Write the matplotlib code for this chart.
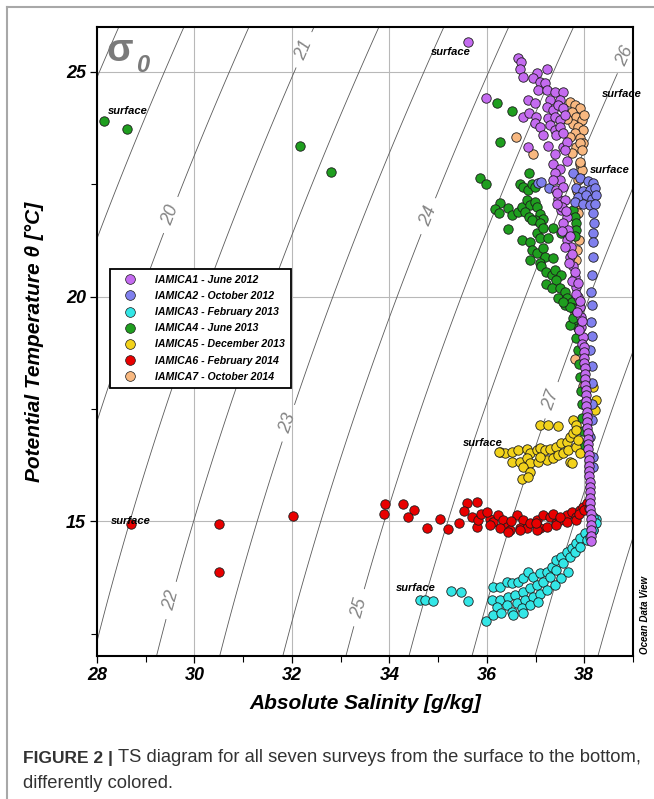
import numpy as np
import matplotlib
matplotlib.use("Agg")
import matplotlib.pyplot as plt
from matplotlib.lines import Line2D
from matplotlib.ticker import MultipleLocator

plt.rcParams['font.family'] = ['Liberation Sans', 'DejaVu Sans']

# survey names and colours
surveys = ['IAMICA1 - June 2012', 'IAMICA2 - October 2012', 'IAMICA3 - February 2013',
           'IAMICA4 - June 2013', 'IAMICA5 - December 2013', 'IAMICA6 - February 2014',
           'IAMICA7 - October 2014']
colors = ['#c46bf0', '#8080ee', '#33e6e6', '#1f9e1f', '#f2d21b', '#e80000', '#f8b880']

# (absolute salinity, potential temperature)
iamica1 = [(35.61, 25.67), (36.65, 25.32), (36.70, 25.23), (36.68, 25.06), (36.75, 24.89),
           (37.04, 24.98), (37.24, 25.06), (36.94, 24.86), (37.09, 24.78), (37.19, 24.75),
           (37.06, 24.60), (37.23, 24.60), (37.40, 24.56), (37.56, 24.56), (35.98, 24.43),
           (36.85, 24.37), (36.99, 24.31), (37.30, 24.37), (37.50, 24.37), (36.75, 24.00),
           (36.87, 24.08), (37.01, 24.00), (37.23, 24.23), (37.36, 24.15), (37.47, 24.26),
           (37.57, 24.19), (37.26, 23.97), (37.40, 24.00), (37.50, 23.93), (37.60, 24.04),
           (36.99, 23.87), (37.09, 23.78), (37.16, 23.60), (37.30, 23.82), (37.40, 23.71),
           (37.50, 23.78), (37.43, 23.60), (37.57, 23.64), (36.85, 23.34), (37.26, 23.36),
           (37.40, 23.17), (37.57, 23.32), (37.64, 23.02), (37.36, 22.96), (37.50, 22.85),
           (37.64, 23.45), (37.60, 23.26),
           (37.40, 22.74), (37.50, 22.59), (37.43, 22.37), (37.57, 22.44), (37.47, 22.18),
           (37.60, 22.15), (37.53, 21.93), (37.64, 21.78), (37.57, 21.63), (37.67, 21.48),
           (37.64, 21.26), (37.72, 21.11), (37.71, 20.89), (37.77, 20.67), (37.81, 20.44),
           (37.84, 20.22), (37.87, 20.00), (37.91, 19.77), (37.94, 19.55), (37.94, 19.33),
           (37.98, 19.11), (37.35, 22.60), (37.45, 22.30), (37.55, 22.00), (37.45, 22.05),
           (37.62, 21.90), (37.55, 21.45), (37.70, 21.35), (37.60, 21.10), (37.75, 20.95),
           (37.68, 20.75), (37.80, 20.55), (37.75, 20.35), (37.88, 20.30), (37.82, 20.05),
           (37.92, 19.90), (37.86, 19.65), (37.96, 19.45), (37.90, 19.25), (37.96, 18.95),
           (37.99, 18.88), (37.99, 18.76), (38.00, 18.64), (38.00, 18.52), (38.01, 18.40),
           (38.01, 18.28), (38.02, 18.16), (38.02, 18.04), (38.03, 17.92), (38.03, 17.80),
           (38.04, 17.68), (38.04, 17.56), (38.05, 17.44), (38.05, 17.32), (38.06, 17.20),
           (38.06, 17.08), (38.07, 16.96), (38.07, 16.84), (38.08, 16.72), (38.08, 16.60),
           (38.09, 16.48), (38.09, 16.36), (38.10, 16.24), (38.10, 16.12), (38.10, 16.00),
           (38.11, 15.88), (38.11, 15.76), (38.11, 15.64), (38.12, 15.52), (38.12, 15.40),
           (38.12, 15.28), (38.13, 15.16), (38.13, 15.04), (38.13, 14.92), (38.13, 14.80),
           (38.13, 14.68), (38.13, 14.56)]

iamica2 = [(37.06, 22.52), (37.12, 22.55), (37.28, 22.41), (37.77, 22.75), (37.91, 22.64),
           (38.08, 22.57), (38.18, 22.53), (37.84, 22.41), (37.98, 22.34), (38.11, 22.37),
           (38.21, 22.41), (37.87, 22.22), (38.04, 22.26), (38.15, 22.18), (38.24, 22.26),
           (37.81, 22.11), (37.98, 22.07), (38.11, 22.04), (38.21, 22.07), (38.17, 21.85),
           (38.20, 21.63), (38.17, 21.41), (38.18, 21.22), (38.17, 20.89), (38.15, 20.48),
           (38.13, 20.11), (38.15, 19.81), (38.14, 19.44), (38.15, 19.12), (38.12, 18.82),
           (38.15, 18.45), (38.15, 18.07), (38.15, 17.62), (38.15, 17.25), (38.12, 16.88),
           (38.18, 16.43), (38.18, 16.21)]

iamica3 = [(34.63, 13.25), (34.73, 13.25), (34.90, 13.23), (35.26, 13.45), (35.48, 13.42),
           (35.62, 13.22), (35.98, 12.78), (36.13, 13.54), (36.27, 13.53), (36.41, 13.65),
           (36.51, 13.62), (36.65, 13.65), (36.75, 13.73), (36.85, 13.88), (36.95, 13.76),
           (37.09, 13.84), (37.23, 13.88), (37.33, 13.99), (37.43, 14.14), (37.53, 14.21),
           (37.64, 14.32), (37.74, 14.40), (37.84, 14.51), (37.91, 14.62), (38.01, 14.73),
           (38.15, 14.88), (38.22, 14.95), (38.25, 15.06), (36.10, 13.25), (36.27, 13.25),
           (36.44, 13.32), (36.58, 13.36), (36.75, 13.43), (36.89, 13.51), (37.02, 13.58),
           (37.16, 13.65), (37.30, 13.76), (37.43, 13.91), (37.57, 14.06), (37.71, 14.21),
           (37.81, 14.32), (37.91, 14.43), (38.05, 14.58), (38.18, 14.80), (36.20, 13.10),
           (36.41, 13.13), (36.61, 13.17), (36.78, 13.25), (36.95, 13.32), (37.09, 13.39),
           (37.23, 13.47), (37.40, 13.58), (37.53, 13.73), (37.67, 13.88), (36.13, 12.91),
           (36.30, 12.95), (36.51, 12.98), (36.72, 13.06), (36.89, 13.13), (37.06, 13.21),
           (36.54, 12.91), (36.75, 12.95), (38.18, 15.10), (38.25, 14.95), (38.18, 14.80),
           (38.12, 14.65)]

iamica4 = [(28.14, 23.90), (28.62, 23.74), (32.17, 23.35), (32.80, 22.77), (36.20, 24.30),
           (36.51, 24.12), (36.27, 23.45), (35.86, 22.65), (35.98, 22.51), (36.87, 22.75),
           (36.68, 22.50), (36.74, 22.44), (36.84, 22.37), (36.93, 22.50), (36.99, 22.44),
           (36.27, 22.09), (36.17, 21.95), (36.26, 21.87), (36.44, 21.97), (36.51, 21.82),
           (36.63, 21.89), (36.72, 22.00), (36.82, 22.15), (36.89, 22.04), (36.99, 22.11),
           (37.02, 22.00), (36.78, 21.89), (36.87, 21.76), (37.09, 21.84), (37.16, 21.73),
           (36.99, 21.70), (36.44, 21.50), (36.92, 21.70), (37.09, 21.63), (36.73, 21.26),
           (36.89, 21.22), (37.02, 21.41), (37.09, 21.30), (37.16, 21.52), (37.26, 21.30),
           (37.35, 21.52), (36.92, 21.04), (37.02, 20.96), (37.16, 21.07), (37.19, 20.89),
           (37.36, 20.85), (37.09, 20.74), (36.89, 20.81), (37.12, 20.67), (37.22, 20.55),
           (37.33, 20.48), (37.40, 20.59), (37.53, 20.48), (37.43, 20.37), (37.22, 20.29),
           (37.33, 20.18), (37.50, 20.18), (37.60, 20.11), (37.47, 19.96), (37.64, 19.96),
           (37.60, 19.81), (37.74, 19.88), (37.77, 19.74), (37.84, 19.59), (37.77, 19.44),
           (37.87, 19.29), (37.84, 19.07), (37.77, 21.93), (37.81, 21.78), (37.84, 21.63),
           (37.84, 21.48), (37.81, 21.34), (37.52, 21.42), (37.71, 19.37), (37.77, 19.52),
           (37.71, 19.77), (37.57, 19.89), (37.88, 18.80), (37.90, 18.50), (37.92, 18.20),
           (37.93, 17.90), (37.95, 17.60), (37.96, 17.30), (37.97, 17.00), (37.98, 16.70)]

iamica5 = [(37.09, 17.14), (37.26, 17.14), (37.47, 17.12), (37.77, 17.25), (37.84, 17.14),
           (36.27, 16.55), (36.37, 16.52), (36.51, 16.55), (36.65, 16.58), (36.82, 16.60),
           (36.89, 16.51), (37.02, 16.58), (37.09, 16.62), (37.19, 16.58), (37.30, 16.60),
           (37.43, 16.66), (37.53, 16.73), (37.64, 16.77), (37.71, 16.88), (37.77, 16.96),
           (37.84, 17.03), (36.51, 16.32), (36.68, 16.32), (36.82, 16.40), (36.89, 16.29),
           (37.06, 16.32), (37.23, 16.36), (37.36, 16.40), (37.47, 16.47), (37.57, 16.51),
           (37.67, 16.58), (37.71, 16.32), (36.75, 16.21), (36.89, 16.10), (36.72, 15.95),
           (36.85, 15.99), (37.09, 16.43), (37.84, 16.66), (37.88, 16.81), (37.91, 16.51),
           (38.18, 17.99), (38.25, 17.70), (38.22, 17.47), (37.74, 16.29), (36.24, 16.55)]

iamica6 = [(28.70, 14.94), (30.50, 14.94), (30.50, 13.87), (32.02, 15.12), (33.91, 15.38),
           (33.89, 15.16), (34.27, 15.38), (34.50, 15.26), (34.39, 15.10), (34.78, 14.86),
           (35.04, 15.04), (35.20, 14.82), (35.43, 14.97), (35.59, 15.40), (35.79, 15.43),
           (35.53, 15.23), (35.69, 15.10), (35.79, 14.88), (35.82, 15.03), (35.89, 15.17),
           (36.06, 15.06), (36.13, 14.99), (36.23, 15.14), (36.34, 15.03), (36.41, 14.88),
           (36.47, 14.80), (36.61, 15.14), (36.75, 15.03), (36.68, 14.84), (36.82, 14.84),
           (36.89, 14.95), (37.02, 15.03), (37.09, 14.84), (37.16, 15.14), (37.30, 15.10),
           (37.43, 14.95), (37.36, 15.17), (37.50, 15.03), (37.64, 15.14), (37.74, 15.21),
           (37.84, 15.10), (37.91, 15.25), (37.98, 15.32), (38.05, 15.40), (36.06, 14.91),
           (36.27, 14.84), (36.44, 14.77), (36.68, 14.80), (37.02, 14.80), (37.23, 14.88),
           (37.43, 14.91), (37.64, 14.99), (37.84, 15.03), (36.00, 15.20), (36.50, 15.00),
           (37.00, 14.95), (37.50, 15.10), (37.90, 15.15), (38.00, 15.25), (38.10, 15.30)]

iamica7 = [(37.71, 24.34), (37.81, 24.26), (37.91, 24.19), (37.74, 24.11), (37.84, 24.00),
           (37.95, 23.93), (37.77, 23.85), (37.88, 23.78), (37.98, 23.71), (37.81, 23.64),
           (37.91, 23.52), (37.98, 23.41), (37.84, 23.34), (36.60, 23.55), (36.94, 23.18),
           (37.91, 22.94), (37.95, 22.82), (37.91, 23.41), (37.95, 23.26), (37.91, 23.00),
           (37.88, 22.07), (37.88, 21.85), (37.90, 21.26), (37.86, 21.04), (37.84, 20.81),
           (37.81, 19.63), (37.81, 18.60), (37.97, 18.00), (37.65, 23.95), (37.70, 23.55),
           (38.00, 24.05), (37.75, 23.20), (37.88, 22.60), (37.86, 22.35)]

all_surveys = [iamica1, iamica2, iamica3, iamica4, iamica5, iamica6, iamica7]
draw_order = [6, 3, 4, 5, 2, 1, 0]

# "surface" annotations (salinity, temperature)
surface_notes = [(35.26, 25.44), (28.64, 24.13), (38.77, 24.51), (38.53, 22.82),
                 (35.92, 16.74), (28.70, 15.00), (34.55, 13.51)]

plain_levels = [16, 17, 18, 19, 28, 29, 30]
labelled_levels = [20, 21, 22, 23, 24, 25, 26, 27]
label_spots = [(29.33, 21.89), (32.10, 25.56), (29.33, 13.29), (31.73, 17.25),
               (34.63, 21.86), (33.19, 13.13), (38.66, 25.45), (37.12, 17.77)]


def sigma0(sa, t):
    # EOS-80 one atmosphere density, practical salinity from absolute
    s = sa * 35.0 / 35.16504
    rho_w = (999.842594 + 6.793952e-2 * t - 9.095290e-3 * t**2 + 1.001685e-4 * t**3
             - 1.120083e-6 * t**4 + 6.536332e-9 * t**5)
    a = 8.24493e-1 - 4.0899e-3 * t + 7.6438e-5 * t**2 - 8.2467e-7 * t**3 + 5.3875e-9 * t**4
    b = -5.72466e-3 + 1.0227e-4 * t - 1.6546e-6 * t**2
    c = 4.8314e-4
    return rho_w + a * s + b * s**1.5 + c * s**2 - 1000.0


fig = plt.figure(figsize=(6.54, 7.99), dpi=100)
ax = fig.add_axes([97 / 654, 1 - 656 / 799, 536 / 654, 629 / 799])

sg, tg = np.meshgrid(np.linspace(27.5, 39.5, 240), np.linspace(11.5, 26.5, 240))
dens = sigma0(sg, tg)
ax.contour(sg, tg, dens, levels=plain_levels, colors='#5a5a5a', linewidths=0.6, zorder=1)
cs = ax.contour(sg, tg, dens, levels=labelled_levels, colors='#5a5a5a',
                linewidths=0.6, zorder=1)
clabels = ax.clabel(cs, manual=label_spots, fmt='%d', fontsize=13,
                    colors='#858585', inline=True, inline_spacing=8)
for t in clabels:
    t.set_fontstyle('italic')

for i in draw_order:
    pts = np.array(all_surveys[i])
    ax.scatter(pts[:, 0], pts[:, 1], s=46, color=colors[i], edgecolors='#1a1a1a',
               linewidths=0.6, zorder=3, label=surveys[i])

for s, t in surface_notes:
    ax.text(s, t, 'surface', ha='center', va='center', fontsize=8,
            fontweight='bold', fontstyle='italic', zorder=5)

ax.set_xlim(28, 39)
ax.set_ylim(12, 26)
ax.xaxis.set_major_locator(MultipleLocator(2))
ax.xaxis.set_minor_locator(MultipleLocator(1))
ax.yaxis.set_major_locator(MultipleLocator(5))
ax.yaxis.set_minor_locator(MultipleLocator(2.5))
ax.grid(True, which='major', color='#b8b8b8', linewidth=0.8, zorder=0)
ax.set_axisbelow(True)
ax.tick_params(which='major', direction='out', length=5, width=0.9, pad=3)
ax.tick_params(which='minor', direction='out', length=4, width=0.8)
for lab in ax.get_xticklabels() + ax.get_yticklabels():
    lab.set_fontsize(13)
    lab.set_fontweight('bold')
    lab.set_fontstyle('italic')
for sp in ax.spines.values():
    sp.set_linewidth(1.5)

ax.set_xlabel('Absolute Salinity [g/kg]', fontsize=15, fontweight='bold',
              fontstyle='italic', labelpad=7)
ax.set_ylabel('Potential Temperature θ [°C]', fontsize=15, fontweight='bold',
              fontstyle='italic', labelpad=16)

ax.text(0.018, 0.99, 'σ', transform=ax.transAxes, fontsize=28, fontweight='bold',
        color='#7a7a7a', va='top', ha='left')
ax.text(0.072, 0.928, '0', transform=ax.transAxes, fontsize=17, fontweight='bold',
        fontstyle='italic', color='#7a7a7a', va='baseline', ha='left')
ax.text(1.022, 0.065, 'Ocean Data View', transform=ax.transAxes, rotation=90,
        fontsize=7, fontweight='bold', fontstyle='italic', ha='center', va='center')

handles = [Line2D([], [], marker='o', linestyle='none', markersize=7,
                  markerfacecolor=colors[i], markeredgecolor='#1a1a1a',
                  markeredgewidth=0.5) for i in range(7)]
leg = ax.legend(handles, surveys, loc='lower left', bbox_to_anchor=(0.024, 0.426),
                prop={'size': 7.6, 'weight': 'bold', 'style': 'italic'},
                fancybox=False, framealpha=1, edgecolor='black', borderpad=0.6,
                labelspacing=0.58, handlelength=2.6, handletextpad=1.1,
                borderaxespad=0)
leg.get_frame().set_linewidth(1.3)
leg.set_zorder(6)

# outer panel frame
fig.add_artist(Line2D([7 / 654, 7 / 654], [0, 1 - 7 / 799], transform=fig.transFigure,
                      color='#a8a8a8', linewidth=1.5))
fig.add_artist(Line2D([7 / 654, 1], [1 - 7 / 799, 1 - 7 / 799], transform=fig.transFigure,
                      color='#a8a8a8', linewidth=1.5))

cap_font = ['Liberation Sans Narrow', 'Liberation Sans']
head = fig.text(23 / 654, 1 - 758 / 799, 'FIGURE 2 |', fontsize=12.5, fontweight='bold',
                family=cap_font, color='#333333', va='center', ha='left')
fig.canvas.draw()
head_end = head.get_window_extent().x1 + 5
fig.text(max(97, head_end) / 654, 1 - 758 / 799,
         'TS diagram for all seven surveys from the surface to the bottom,',
         fontsize=13.2, color='#333333', va='center', ha='left')
fig.text(23 / 654, 1 - 783 / 799, 'differently colored.', fontsize=13.2,
         color='#333333', va='center', ha='left')

fig.savefig('out.png', dpi=100)
